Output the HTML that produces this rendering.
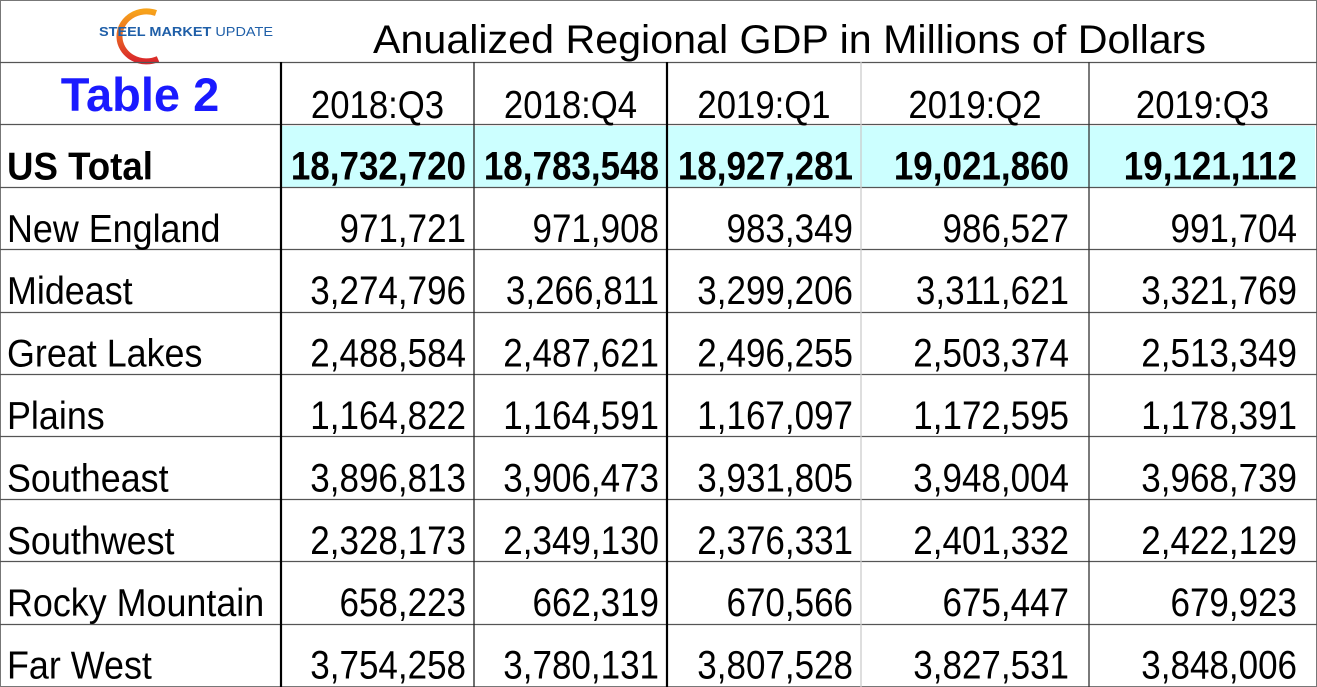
<!DOCTYPE html>
<html><head><meta charset="utf-8"><style>
html,body{margin:0;padding:0;background:#fff;}
svg{display:block;font-family:"Liberation Sans",Arial,sans-serif;}
</style></head><body>
<svg id="tbl" width="1317" height="687" viewBox="0 0 1317 687" xmlns="http://www.w3.org/2000/svg">
<defs><linearGradient id="arcg" x1="0" y1="0" x2="0" y2="1"><stop offset="0" stop-color="#f7a21b"/><stop offset="1" stop-color="#d9262b"/></linearGradient></defs>
<rect x="0" y="0" width="1317" height="687" fill="#fff"/>
<rect x="281" y="126" width="1034" height="61" fill="#ccffff"/>
<g>
<path d="M156 13 A27 25 0 1 0 158 59" fill="none" stroke="url(#arcg)" stroke-width="6"/>
<text x="99" y="36" font-size="12.5" font-weight="bold" fill="#1f5fa8" textLength="174" lengthAdjust="spacingAndGlyphs">STEEL MARKET <tspan font-weight="normal">UPDATE</tspan></text>
</g>
<text x="373" y="53" font-size="40" fill="#000" textLength="833" lengthAdjust="spacingAndGlyphs">Anualized Regional GDP in Millions of Dollars</text>
<text x="140" y="111" font-size="47" font-weight="bold" fill="#1a1aff" text-anchor="middle">Table 2</text>
<g id="grid"></g>
<g id="cells"></g>
</svg>
<script>
const quarters = ["2018:Q3","2018:Q4","2019:Q1","2019:Q2","2019:Q3"];
const regions = ["US Total","New England","Mideast","Great Lakes","Plains","Southeast","Southwest","Rocky Mountain","Far West"];
const values = [
 ["18,732,720","18,783,548","18,927,281","19,021,860","19,121,112"],
 ["971,721","971,908","983,349","986,527","991,704"],
 ["3,274,796","3,266,811","3,299,206","3,311,621","3,321,769"],
 ["2,488,584","2,487,621","2,496,255","2,503,374","2,513,349"],
 ["1,164,822","1,164,591","1,167,097","1,172,595","1,178,391"],
 ["3,896,813","3,906,473","3,931,805","3,948,004","3,968,739"],
 ["2,328,173","2,349,130","2,376,331","2,401,332","2,422,129"],
 ["658,223","662,319","670,566","675,447","679,923"],
 ["3,754,258","3,780,131","3,807,528","3,827,531","3,848,006"]
];
const NS="http://www.w3.org/2000/svg";
const grid=document.getElementById('grid'), cells=document.getElementById('cells');
function line(x1,y1,x2,y2,c,w){const l=document.createElementNS(NS,'line');
l.setAttribute('x1',x1);l.setAttribute('y1',y1);l.setAttribute('x2',x2);l.setAttribute('y2',y2);
l.setAttribute('stroke',c);l.setAttribute('stroke-width',w);


grid.appendChild(l);}
const colX=[0,281,474,667,861,1089,1316];
const rowTop=62, rowH=62.4;
const nRows=regions.length+1;
line(0.5,0,0.5,687,'#777',1);line(1316.5,0,1316.5,687,'#777',1);
line(0,0.5,1317,0.5,'#777',1);line(0,686.5,1317,686.5,'#777',1);
for(let i=0;i<nRows;i++){const y=Math.round(rowTop+i*rowH)+0.5;line(0,y,1317,y,'#555',1.3);}
const vStyles=[null,['#000',2.2],['#222',1.3],['#000',2.2],['#ccc',1.3],['#333',1.3]];
for(let i=1;i<=5;i++){line(colX[i],rowTop,colX[i],687,vStyles[i][0],vStyles[i][1]);}
function txt(x,y,s,opts,name){const t=document.createElementNS(NS,'text');
t.setAttribute('x',0);t.setAttribute('y',0);t.setAttribute('font-size',opts.size||40);
t.setAttribute('transform','translate('+x+','+y+') scale('+(opts.sx||0.875)+',1)');
if(opts.bold)t.setAttribute('font-weight','bold');
if(opts.anchor)t.setAttribute('text-anchor',opts.anchor);
t.textContent=s;


cells.appendChild(t);}
const rightX=[466,659,853,1069,1297];
quarters.forEach((q,i)=>{txt((colX[i+1]+colX[i+2])/2,118,q,{size:39,sx:0.89,anchor:'middle'},'column-header');});
regions.forEach((r,ri)=>{
 const top=rowTop+(ri+1)*rowH;const by=top+55;
 const bold=ri===0;
 txt(7,by,r,{size:39,sx:bold?0.94:0.92,bold:bold},'row-label');
 values[ri].forEach((v,ci)=>{txt(rightX[ci],by,v,{size:40,sx:0.875,bold:bold,anchor:'end'},'value-cell');});
});
</script>
</body></html>
